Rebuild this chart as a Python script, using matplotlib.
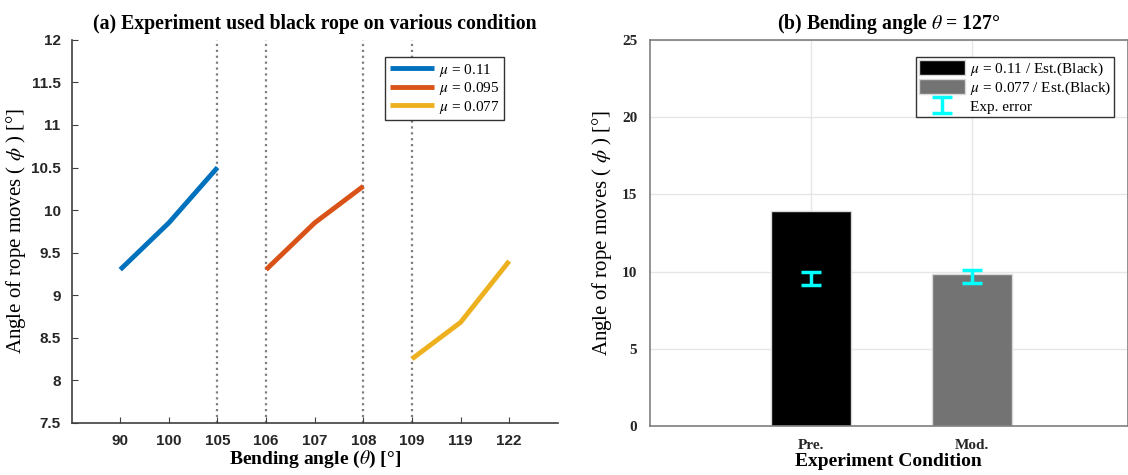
import matplotlib

matplotlib.use("Agg")
import matplotlib.pyplot as plt  # noqa: E402
from matplotlib.patches import Patch  # noqa: E402

plt.rcParams["mathtext.fontset"] = "stix"
plt.rcParams["font.family"] = ["Liberation Serif", "DejaVu Serif"]

# (a) bending angle categories and phi values per friction coefficient
theta_labels = ["90", "100", "105", "106", "107", "108", "109", "119", "122"]
mu_labels = ["$\\mu$ = 0.11", "$\\mu$ = 0.095", "$\\mu$ = 0.077"]
phi_mu011 = [9.3, 9.85, 10.5]
phi_mu0095 = [9.3, 9.85, 10.28]
phi_mu0077 = [8.25, 8.68, 9.4]
divider_labels = ["105", "106", "108", "109"]

# (b) bars at theta = 127
conditions = ["Pre.", "Mod."]
bar_values = [13.95, 9.83]
bar_labels = ["$\\mu$ = 0.11 / Est.(Black)", "$\\mu$ = 0.077 / Est.(Black)"]
exp_mean = [9.57, 9.68]
exp_err = [0.43, 0.43]

line_colors = ["#0072BD", "#D95319", "#EDB120"]
axis_col = "#404040"

fig = plt.figure(figsize=(11.28, 4.75), dpi=100)

# ---- (a) ----
ax = fig.add_axes([0.0635, 0.11, 0.431, 0.806])
idx = {lab: i + 1 for i, lab in enumerate(theta_labels)}
series = [phi_mu011, phi_mu0095, phi_mu0077]
for k, (vals, col, lab) in enumerate(zip(series, line_colors, mu_labels)):
    xs = [idx[t] for t in theta_labels[3 * k:3 * k + 3]]
    ax.plot(xs, vals, color=col, lw=3.5, label=lab, solid_capstyle="butt")
for d in divider_labels:
    ax.axvline(idx[d], color="#7f7f7f", ls=":", lw=1.6, zorder=0)
ax.set_xlim(0, 10)
ax.set_ylim(7.5, 12)
ax.set_xticks(range(1, len(theta_labels) + 1))
ax.set_xticklabels(theta_labels)
ax.set_yticks([7.5 + 0.5 * i for i in range(10)])
ax.set_yticklabels(["7.5", "8", "8.5", "9", "9.5", "10", "10.5", "11", "11.5", "12"])
for lab in ax.get_xticklabels() + ax.get_yticklabels():
    lab.set_family("Liberation Sans")
    lab.set_fontweight("bold")
    lab.set_fontsize(11)
    lab.set_color("#262626")
ax.tick_params(direction="in", length=4, color=axis_col, pad=8)
ax.spines["top"].set_visible(False)
ax.spines["right"].set_visible(False)
for s in ("left", "bottom"):
    ax.spines[s].set_color(axis_col)
    ax.spines[s].set_linewidth(1.2)
ax.set_title("(a) Experiment used black rope on various condition",
             fontsize=14.2, fontweight="bold", pad=8)
ax.set_xlabel("Bending angle ($\\theta$) [°]", fontsize=14, fontweight="bold", labelpad=1)
ax.set_ylabel("Angle of rope moves ( $\\phi$ ) [°]", fontsize=15, labelpad=2)
leg = ax.legend(loc="upper right", bbox_to_anchor=(0.905, 0.975), fontsize=11,
                handlelength=2.9, handletextpad=0.3, borderpad=0.3, labelspacing=0.1,
                fancybox=False, framealpha=1, edgecolor="#333333")
leg.get_frame().set_linewidth(1.0)

# ---- (b) ----
bx = fig.add_axes([0.576, 0.103, 0.424, 0.813])
pos = [1, 2]
bar_cols = ["#000000", "#737373"]
for p, v, c in zip(pos, bar_values, bar_cols):
    bx.bar(p, v, width=0.5, color=c, edgecolor="#d9d9d9", linewidth=1, zorder=2)
err = bx.errorbar(pos, exp_mean, yerr=exp_err, fmt="none", ecolor="#00FFFF",
                  elinewidth=2.5, capsize=7, capthick=2.5, zorder=3)
bx.set_xlim(0, 2.97)
bx.set_ylim(0, 25)
bx.set_xticks(pos)
bx.set_xticklabels(conditions)
bx.set_yticks([0, 5, 10, 15, 20, 25])
for lab in bx.get_xticklabels() + bx.get_yticklabels():
    lab.set_fontweight("bold")
    lab.set_fontsize(11)
    lab.set_color("#262626")
bx.grid(True, color="#e6e6e6", lw=1, zorder=0)
bx.set_axisbelow(True)
bx.tick_params(direction="in", length=0, pad=9)
for s in bx.spines.values():
    s.set_color("#7f7f7f")
    s.set_linewidth(1.2)
bx.set_title("(b) Bending angle $\\theta$ = 127°", fontsize=14.2, fontweight="bold", pad=8)
bx.set_xlabel("Experiment Condition", fontsize=14, fontweight="bold", labelpad=1)
bx.set_ylabel("Angle of rope moves ( $\\phi$ ) [°]", fontsize=15, labelpad=6)
handles = [Patch(facecolor=c, edgecolor="#d9d9d9") for c in bar_cols] + [err]
leg2 = bx.legend(handles, bar_labels + ["Exp. error"], loc="upper right",
                 bbox_to_anchor=(0.987, 0.975), fontsize=11, handlelength=3.0,
                 handleheight=1.1, handletextpad=0.3, borderpad=0.2, labelspacing=0.1,
                 fancybox=False, framealpha=1, edgecolor="#333333")
leg2.get_frame().set_linewidth(1.0)

fig.savefig("out.png", dpi=100)
